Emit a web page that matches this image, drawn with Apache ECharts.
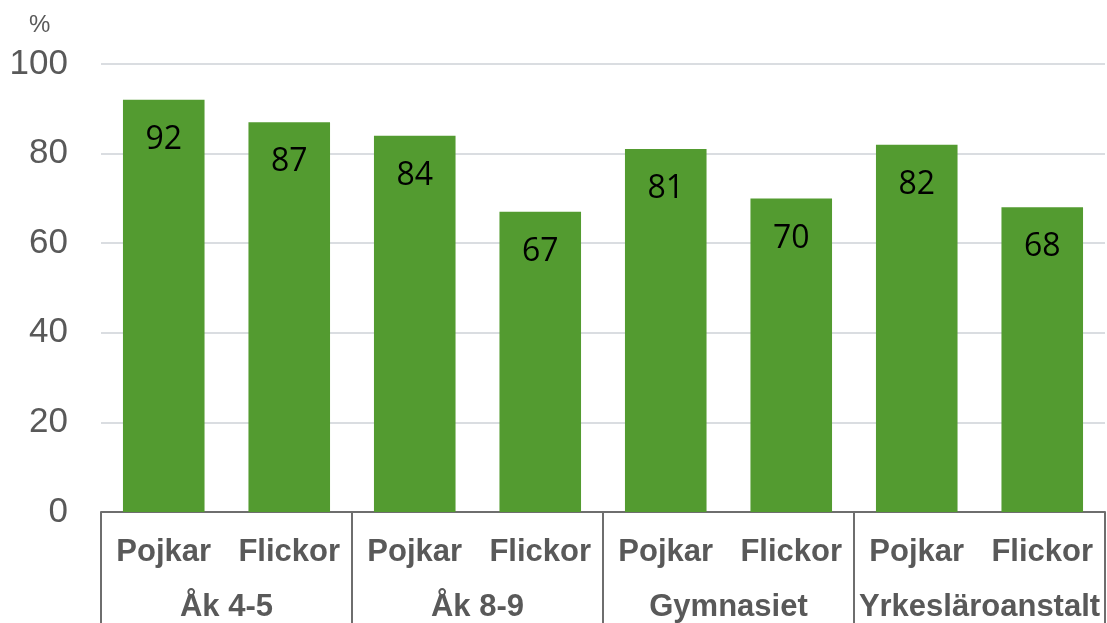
<!DOCTYPE html>
<html>
<head>
<meta charset="utf-8">
<script src="https://cdn.jsdelivr.net/npm/echarts@6/dist/echarts.min.js"></script>
<style>
  html, body { margin: 0; padding: 0; background: #fff; }
  #chart { width: 1107px; height: 623px; }
</style>
</head>
<body>
<div id="chart"></div>
<script>
// kategorier och värden
const subCategories = ['Pojkar', 'Flickor', 'Pojkar', 'Flickor', 'Pojkar', 'Flickor', 'Pojkar', 'Flickor']
const groups = ['Åk 4-5', 'Åk 8-9', 'Gymnasiet', 'Yrkesläroanstalt']
const values = [92, 87, 84, 67, 81, 70, 82, 68]
const yTicks = [0, 20, 40, 60, 80, 100]

const chart = echarts.init(document.getElementById('chart'))

const option = {
  animation: false,
  title: {
    text: '%',
    left: 24,
    top: 8,
    textStyle: { color: '#595959', fontSize: 24, fontWeight: 'normal', fontFamily: 'Liberation Sans' }
  },
  grid: {
    left: 101,
    right: 2,
    top: 64,
    bottom: 109,
    containLabel: false
  },
  xAxis: [
    {
      type: 'category',
      data: subCategories,
      axisLine: { lineStyle: { color: '#6e6e6e', width: 2 } },
      axisTick: { show: false },
      axisLabel: {
        margin: 25,
        interval: 0,
        color: '#595959',
        fontSize: 31,
        fontWeight: 'bold',
        fontFamily: 'Liberation Sans'
      }
    },
    {
      // gruppnivå
      type: 'category',
      data: groups,
      position: 'bottom',
      axisLine: { show: false },
      axisTick: {
        show: true,
        interval: 0,
        length: 120,
        lineStyle: { color: '#6e6e6e', width: 2 }
      },
      axisLabel: {
        margin: 80,
        interval: 0,
        color: '#595959',
        fontSize: 31,
        fontWeight: 'bold',
        fontFamily: 'Liberation Sans'
      }
    }
  ],
  yAxis: {
    type: 'value',
    min: yTicks[0],
    max: yTicks[yTicks.length - 1],
    interval: 20,
    axisLine: { show: false },
    axisTick: { show: false },
    splitLine: { lineStyle: { color: '#dadde1', width: 2 } },
    axisLabel: {
      margin: 33,
      color: '#595959',
      fontSize: 35,
      fontFamily: 'Liberation Sans'
    }
  },
  series: [
    {
      type: 'bar',
      data: values,
      xAxisIndex: 0,
      barWidth: '65%',
      itemStyle: { color: '#539b30' },
      label: {
        show: true,
        position: 'insideTop',
        distance: 24,
        color: '#000',
        fontSize: 32,
        fontFamily: 'Open Sans'
      }
    }
  ]
}

chart.setOption(option)
</script>
</body>
</html>
